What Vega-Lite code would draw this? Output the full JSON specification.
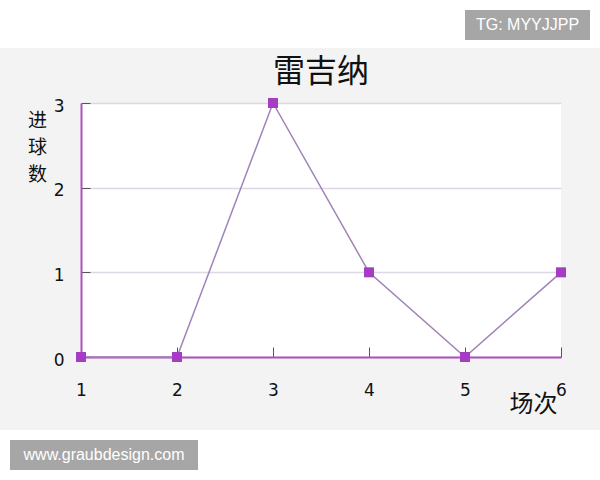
{
  "$schema": "https://vega.github.io/schema/vega-lite/v6.json",
  "background": "#f3f3f3",
  "padding": 0,
  "spacing": 0,
  "config": {"view": {"stroke": null}, "concat": {"spacing": 0}},
  "vconcat": [
    {
      "spacing": 0,
      "vconcat": [
        {"width": 600, "height": 10, "data": {"values": []}, "mark": "point", "view": {"fill": "white", "stroke": null}},
        {
          "spacing": 0,
          "hconcat": [
            {"width": 465, "height": 30, "data": {"values": []}, "mark": "point", "view": {"fill": "white", "stroke": null}},
            {"width": 125, "height": 30, "data": {"values": [{"t": "TG: MYYJJPP"}]}, "mark": {"type": "text", "color": "white", "fontSize": 16, "font": "Liberation Sans"}, "encoding": {"text": {"field": "t"}}, "view": {"fill": "#a6a6a6", "stroke": null}},
            {"width": 10, "height": 30, "data": {"values": []}, "mark": "point", "view": {"fill": "white", "stroke": null}}
          ]
        },
        {"width": 600, "height": 8, "data": {"values": []}, "mark": "point", "view": {"fill": "white", "stroke": null}}
      ]
    },
    {"width": 600, "height": 8, "data": {"values": []}, "mark": "point"},
    {
      "spacing": 0,
      "hconcat": [
        {"width": 27, "height": 10, "data": {"values": []}, "mark": "point"},
        {
          "width": 480,
          "height": 254,
          "title": {"text": "雷吉纳", "font": "Noto Sans CJK SC", "fontSize": 32, "fontWeight": "normal", "color": "#111111", "offset": 8},
          "view": {"fill": "white", "stroke": null},
          "data": {
            "values": [
              {"match": 1, "goals": 0},
              {"match": 2, "goals": 0},
              {"match": 3, "goals": 3},
              {"match": 4, "goals": 1},
              {"match": 5, "goals": 0},
              {"match": 6, "goals": 1}
            ]
          },
          "encoding": {
            "x": {
              "field": "match",
              "type": "quantitative",
              "scale": {"domain": [1, 6], "nice": false, "zero": false},
              "axis": {
                "values": [1, 2, 3, 4, 5, 6],
                "format": "d",
                "title": "场次",
                "titleFont": "Noto Sans CJK SC",
                "titleFontSize": 24,
                "titleFontWeight": "normal",
                "titleColor": "#111111",
                "titleAnchor": "end",
                "titleAlign": "right",
                "titleBaseline": "top",
                "titleX": 476,
                "titleY": 35,
                "grid": false,
                "domainColor": "#b050c0",
                "domainWidth": 2,
                "tickColor": "#555555",
                "tickSize": -10,
                "labelPadding": 35,
                "labelFlush": false,
                "labelFont": "DejaVu Sans",
                "labelFontSize": 17,
                "labelColor": "#111111"
              }
            },
            "y": {
              "field": "goals",
              "type": "quantitative",
              "scale": {"domain": [0, 3], "nice": false},
              "axis": {
                "values": [0, 1, 2, 3],
                "format": "d",
                "title": ["进", "球", "数"],
                "titleFont": "Noto Sans CJK SC",
                "titleFontSize": 19,
                "titleFontWeight": "normal",
                "titleColor": "#111111",
                "titleAngle": 0,
                "titleAlign": "center",
                "titleBaseline": "top",
                "titleLineHeight": 27,
                "titleX": -44,
                "titleY": 8,
                "grid": true,
                "gridColor": "#dcd8e4",
                "gridWidth": 1.5,
                "domainColor": "#b050c0",
                "domainWidth": 2,
                "tickColor": "#555555",
                "tickSize": -9,
                "labelPadding": 26,
                "labelOffset": 3,
                "labelFont": "DejaVu Sans",
                "labelFontSize": 17,
                "labelColor": "#111111"
              }
            }
          },
          "layer": [
            {"mark": {"type": "line", "color": "#a084b8", "strokeWidth": 1.5}},
            {"mark": {"type": "square", "color": "#a43cc4", "size": 100, "opacity": 1}}
          ]
        }
      ]
    },
    {"width": 600, "height": 14, "data": {"values": []}, "mark": "point"},
    {
      "spacing": 0,
      "vconcat": [
        {"width": 600, "height": 10, "data": {"values": []}, "mark": "point", "view": {"fill": "white", "stroke": null}},
        {
          "spacing": 0,
          "hconcat": [
            {"width": 10, "height": 30, "data": {"values": []}, "mark": "point", "view": {"fill": "white", "stroke": null}},
            {"width": 188, "height": 30, "data": {"values": [{"t": "www.graubdesign.com"}]}, "mark": {"type": "text", "color": "white", "fontSize": 16, "font": "Liberation Sans"}, "encoding": {"text": {"field": "t"}}, "view": {"fill": "#a6a6a6", "stroke": null}},
            {"width": 402, "height": 30, "data": {"values": []}, "mark": "point", "view": {"fill": "white", "stroke": null}}
          ]
        },
        {"width": 600, "height": 10, "data": {"values": []}, "mark": "point", "view": {"fill": "white", "stroke": null}}
      ]
    }
  ]
}
